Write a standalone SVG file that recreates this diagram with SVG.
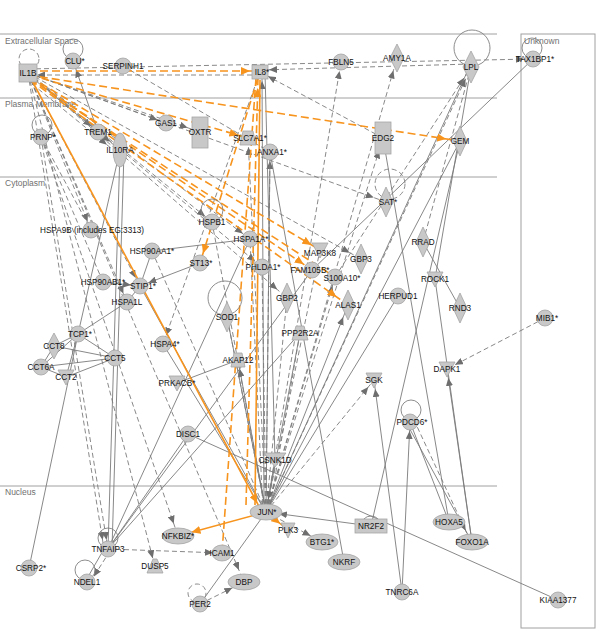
<svg xmlns="http://www.w3.org/2000/svg" width="600" height="640" viewBox="0 0 600 640">
<style>
.n{fill:#c8c8c8;stroke:#a5a5a5;stroke-width:0.8}
.t{font-family:"Liberation Sans",Arial,sans-serif;font-size:8.2px;fill:#111111;text-anchor:middle}
.lay{stroke:#a0a0a0;stroke-width:1;fill:none}
.lt{font-family:"Liberation Sans",Arial,sans-serif;font-size:8.5px;fill:#707070}
.e{fill:none;stroke:#7a7a7a;stroke-width:0.9}
.d{stroke-dasharray:5,3}
.o{fill:none;stroke:#F7941E;stroke-width:1.6}
.od{stroke-dasharray:8,4}
.lp{fill:none;stroke:#808080;stroke-width:0.9}
</style>
<defs>
<marker id="a" markerUnits="userSpaceOnUse" markerWidth="8" markerHeight="7" refX="17" refY="3.5" orient="auto"><path d="M0,0 L8,3.5 L0,7 z" fill="#6e6e6e"/></marker>
<marker id="ab" markerUnits="userSpaceOnUse" markerWidth="8" markerHeight="7" refX="21" refY="3.5" orient="auto"><path d="M0,0 L8,3.5 L0,7 z" fill="#6e6e6e"/></marker>
<marker id="ao" markerUnits="userSpaceOnUse" markerWidth="9" markerHeight="8" refX="19" refY="4" orient="auto"><path d="M0,0 L9,4 L0,8 z" fill="#F7941E"/></marker>
<marker id="aob" markerUnits="userSpaceOnUse" markerWidth="9" markerHeight="8" refX="23" refY="4" orient="auto"><path d="M0,0 L9,4 L0,8 z" fill="#F7941E"/></marker>
</defs>
<rect width="600" height="640" fill="#ffffff"/>
<g id="layers">
<line class="lay" x1="0" y1="34" x2="497" y2="34"/>
<line class="lay" x1="0" y1="98" x2="497" y2="98"/>
<line class="lay" x1="0" y1="177" x2="497" y2="177"/>
<line class="lay" x1="0" y1="486" x2="497" y2="486"/>
<rect class="lay" x="521" y="34" width="74" height="594"/>
<text class="lt" x="5" y="44">Extracellular Space</text>
<text class="lt" x="5" y="107">Plasma Membrane</text>
<text class="lt" x="5" y="186">Cytoplasm</text>
<text class="lt" x="5" y="495">Nucleus</text>
<text class="lt" x="524" y="44">Unknown</text>
</g>
<g id="connectors">
<!-- gray dashed -->
<line class="e d" x1="260" y1="75" x2="28" y2="75" marker-end="url(#a)"/>
<line class="e d" x1="28" y1="69" x2="533" y2="59" marker-end="url(#a)"/>
<line class="e d" x1="471" y1="64" x2="260" y2="70" marker-end="url(#a)"/>
<line class="e d" x1="383" y1="138" x2="260" y2="72" marker-end="url(#a)"/>
<line class="e d" x1="266" y1="512" x2="341" y2="62" marker-end="url(#a)"/>
<line class="e d" x1="266" y1="512" x2="397" y2="58" marker-end="url(#ab)"/>
<line class="e d" x1="266" y1="512" x2="383" y2="138" marker-end="url(#ab)"/>
<line class="e d" x1="266" y1="512" x2="471" y2="67" marker-end="url(#ab)"/>
<line class="e d" x1="335" y1="277" x2="471" y2="67" marker-end="url(#ab)"/>
<line class="e d" x1="28" y1="73" x2="166" y2="123" marker-end="url(#a)"/>
<line class="e d" x1="28" y1="73" x2="200" y2="132" marker-end="url(#ab)"/>
<line class="e d" x1="28" y1="73" x2="98" y2="132" marker-end="url(#a)"/>
<line class="e d" x1="30" y1="76" x2="120" y2="150" marker-end="url(#ab)"/>
<line class="e d" x1="26" y1="79" x2="117" y2="153" marker-end="url(#ab)"/>
<line class="e d" x1="123" y1="66" x2="270" y2="152"/>
<line class="e d" x1="28" y1="73" x2="91" y2="230" marker-end="url(#a)"/>
<line class="e d" x1="28" y1="73" x2="140" y2="286" marker-end="url(#a)"/>
<line class="e d" x1="28" y1="73" x2="127" y2="302" marker-end="url(#a)"/>
<line class="e d" x1="28" y1="73" x2="212" y2="222" marker-end="url(#a)"/>
<line class="e d" x1="28" y1="73" x2="250" y2="239" marker-end="url(#a)"/>
<line class="e d" x1="28" y1="73" x2="262" y2="267" marker-end="url(#a)"/>
<line class="e d" x1="28" y1="73" x2="287" y2="298" marker-end="url(#ab)"/>
<line class="e d" x1="28" y1="73" x2="361" y2="259" marker-end="url(#ab)"/>
<line class="e d" x1="28" y1="73" x2="386" y2="202" marker-end="url(#ab)"/>
<line class="e d" x1="28" y1="73" x2="155" y2="567" marker-end="url(#a)"/>
<line class="e d" x1="41" y1="137" x2="178" y2="536" marker-end="url(#ab)"/>
<line class="e d" x1="41" y1="137" x2="108" y2="549" marker-end="url(#a)"/>
<line class="e d" x1="28" y1="73" x2="244" y2="582" marker-end="url(#ab)"/>
<line class="e d" x1="28" y1="73" x2="104" y2="549" marker-end="url(#a)"/>
<line class="e d" x1="41" y1="137" x2="91" y2="230"/>
<line class="e d" x1="41" y1="137" x2="103" y2="282"/>
<line class="e d" x1="260" y1="72" x2="163" y2="344" marker-end="url(#a)"/>
<line class="e d" x1="266" y1="512" x2="374" y2="380" marker-end="url(#a)"/>
<line class="e d" x1="266" y1="512" x2="322" y2="542" marker-end="url(#ab)"/>
<line class="e d" x1="108" y1="549" x2="222" y2="553" marker-end="url(#a)"/>
<line class="e d" x1="110" y1="551" x2="89" y2="584" marker-end="url(#a)"/>
<line class="e d" x1="200" y1="604" x2="244" y2="582" marker-end="url(#ab)"/>
<line class="e d" x1="545" y1="318" x2="447" y2="369" marker-end="url(#a)"/>
<line class="e d" x1="471" y1="67" x2="423" y2="242"/>
<line class="e d" x1="266" y1="512" x2="270" y2="152" marker-end="url(#a)"/>
<line class="e d" x1="266" y1="512" x2="248" y2="138" marker-end="url(#a)"/>
<line class="e d" x1="266" y1="512" x2="335" y2="277" marker-end="url(#a)"/>
<line class="e d" x1="266" y1="512" x2="262" y2="267"/>
<line class="e d" x1="263" y1="512" x2="250" y2="239"/>
<line class="e d" x1="266" y1="512" x2="287" y2="298"/>
<line class="e d" x1="266" y1="512" x2="227" y2="317"/>
<line class="e d" x1="266" y1="512" x2="320" y2="250"/>
<line class="e d" x1="269" y1="512" x2="300" y2="333"/>
<line class="e d" x1="414" y1="420" x2="470" y2="540" marker-end="url(#ab)"/>
<line class="e d" x1="152" y1="251" x2="266" y2="512"/>
<line class="e d" x1="212" y1="222" x2="266" y2="512"/>
<!-- gray solid -->
<line class="e" x1="98" y1="132" x2="73" y2="61" marker-end="url(#a)"/>
<line class="e" x1="120" y1="150" x2="108" y2="549"/>
<line class="e" x1="124" y1="152" x2="112" y2="549"/>
<line class="e" x1="78" y1="334" x2="29" y2="568"/>
<line class="e" x1="78" y1="334" x2="120" y2="150"/>
<line class="e" x1="78" y1="334" x2="127" y2="302"/>
<line class="e" x1="54" y1="346" x2="78" y2="334"/>
<line class="e" x1="54" y1="346" x2="115" y2="358"/>
<line class="e" x1="41" y1="367" x2="115" y2="358"/>
<line class="e" x1="41" y1="367" x2="78" y2="334"/>
<line class="e" x1="66" y1="377" x2="115" y2="358"/>
<line class="e" x1="66" y1="377" x2="78" y2="334"/>
<line class="e" x1="41" y1="367" x2="54" y2="346"/>
<line class="e" x1="41" y1="367" x2="66" y2="377"/>
<line class="e" x1="78" y1="334" x2="115" y2="358"/>
<line class="e" x1="152" y1="251" x2="140" y2="286"/>
<line class="e" x1="103" y1="282" x2="140" y2="286" marker-end="url(#a)"/>
<line class="e" x1="127" y1="302" x2="140" y2="286"/>
<line class="e" x1="152" y1="251" x2="250" y2="239"/>
<line class="e" x1="200" y1="263" x2="140" y2="286" marker-end="url(#a)"/>
<line class="e" x1="238" y1="360" x2="177" y2="383"/>
<line class="e" x1="266" y1="512" x2="238" y2="360" marker-end="url(#a)"/>
<line class="e" x1="300" y1="333" x2="108" y2="549"/>
<line class="e" x1="300" y1="333" x2="266" y2="512"/>
<line class="e" x1="312" y1="270" x2="108" y2="549"/>
<line class="e" x1="533" y1="59" x2="312" y2="270"/>
<line class="e" x1="398" y1="296" x2="266" y2="512"/>
<line class="e" x1="460" y1="141" x2="371" y2="526"/>
<line class="e" x1="460" y1="141" x2="266" y2="512"/>
<line class="e" x1="471" y1="67" x2="435" y2="279"/>
<line class="e" x1="468" y1="70" x2="266" y2="512"/>
<line class="e" x1="423" y1="242" x2="460" y2="308"/>
<line class="e" x1="383" y1="138" x2="449" y2="522"/>
<line class="e" x1="410" y1="422" x2="449" y2="522"/>
<line class="e" x1="407" y1="424" x2="472" y2="542" marker-end="url(#ab)"/>
<line class="e" x1="435" y1="279" x2="472" y2="542"/>
<line class="e" x1="472" y1="542" x2="447" y2="369" marker-end="url(#a)"/>
<line class="e" x1="402" y1="592" x2="410" y2="422" marker-end="url(#a)"/>
<line class="e" x1="402" y1="592" x2="374" y2="380" marker-end="url(#a)"/>
<line class="e" x1="371" y1="526" x2="266" y2="512" marker-end="url(#ab)"/>
<line class="e" x1="270" y1="152" x2="344" y2="562"/>
<line class="e" x1="188" y1="434" x2="558" y2="600"/>
<line class="e" x1="188" y1="434" x2="108" y2="549"/>
<line class="e" x1="200" y1="604" x2="266" y2="512"/>
<line class="e" x1="104" y1="549" x2="85" y2="582"/>
<line class="e" x1="264" y1="504" x2="262" y2="72" marker-end="url(#a)"/>
<line class="e" x1="270" y1="152" x2="266" y2="512"/>
<line class="e" x1="275" y1="460" x2="266" y2="512" marker-end="url(#ab)"/>
<line class="e" x1="265" y1="72" x2="275" y2="460"/>
<line class="e" x1="266" y1="512" x2="348" y2="305" marker-end="url(#ab)"/>
<line class="e" x1="108" y1="549" x2="250" y2="239"/>
<line class="e" x1="227" y1="317" x2="266" y2="512"/>
<line class="e" x1="163" y1="344" x2="266" y2="512"/>
<line class="e" x1="140" y1="286" x2="266" y2="512"/>
<!-- orange -->
<line class="o od" x1="28" y1="71" x2="260" y2="71" marker-end="url(#ao)"/>
<line class="o od" x1="28" y1="75" x2="460" y2="141" marker-end="url(#aob)"/>
<line class="o od" x1="30" y1="75" x2="248" y2="138" marker-end="url(#ao)"/>
<line class="o od" x1="30" y1="77" x2="320" y2="250" marker-end="url(#ao)"/>
<line class="o od" x1="30" y1="78" x2="312" y2="270" marker-end="url(#ao)"/>
<line class="o od" x1="30" y1="79" x2="335" y2="277"/>
<line class="o od" x1="30" y1="80" x2="348" y2="305" marker-end="url(#aob)"/>
<line class="o od" x1="258" y1="78" x2="200" y2="263" marker-end="url(#ao)"/>
<line class="o od" x1="256" y1="78" x2="222" y2="553"/>
<line class="o od" x1="246" y1="505" x2="258" y2="78" marker-end="url(#ao)"/>
<line class="o" x1="28" y1="73" x2="262" y2="512" marker-end="url(#ao)"/>
<line class="o" x1="260" y1="80" x2="255" y2="505"/>
<line class="o" x1="266" y1="512" x2="178" y2="536" marker-end="url(#aob)"/>
<line class="o" x1="266" y1="512" x2="288" y2="530" marker-end="url(#ao)"/>
<!-- self loops -->
<circle class="lp d" cx="29" cy="59" r="10"/>
<circle class="lp" cx="73" cy="49" r="10"/>
<circle class="lp" cx="42" cy="125" r="10"/>
<circle class="lp" cx="472" cy="48" r="18"/>
<circle class="lp" cx="532" cy="48" r="10"/>
<circle class="lp" cx="212" cy="210" r="11"/>
<circle class="lp" cx="225" cy="298" r="17"/>
<circle class="lp d" cx="390" cy="184" r="15"/>
<circle class="lp" cx="411" cy="410" r="10"/>
<circle class="lp" cx="108" cy="538" r="10"/>
<circle class="lp" cx="85" cy="570" r="10"/>
<circle class="lp d" cx="197" cy="593" r="9"/>
<path class="lp" d="M361,526 A10,10 0 0 1 381,526"/>
</g>
<g id="IL1B"><rect class="n" x="19" y="64" width="18" height="18"/><text class="t" x="28" y="76">IL1B</text></g>
<g id="CLU"><circle class="n" cx="73" cy="61" r="8"/><text class="t" x="75" y="64">CLU*</text></g>
<g id="SERPINH1"><circle class="n" cx="123" cy="66" r="8"/><text class="t" x="123" y="69">SERPINH1</text></g>
<g id="IL8"><rect class="n" x="252" y="65" width="16" height="14"/><text class="t" x="262" y="75">IL8*</text></g>
<g id="FBLN5"><circle class="n" cx="341" cy="62" r="8"/><text class="t" x="341" y="65">FBLN5</text></g>
<g id="AMY1A"><polygon class="n" points="397,44 404,58 397,72 390,58"/><text class="t" x="397" y="61">AMY1A</text></g>
<g id="LPL"><polygon class="n" points="471,51 479,67 471,83 463,67"/><text class="t" x="471" y="70">LPL</text></g>
<g id="TAX1BP1"><circle class="n" cx="533" cy="59" r="8"/><text class="t" x="535" y="62">TAX1BP1*</text></g>
<g id="PRNP"><circle class="n" cx="41" cy="137" r="8"/><text class="t" x="43" y="140">PRNP*</text></g>
<g id="TREM1"><circle class="n" cx="98" cy="132" r="8"/><text class="t" x="98" y="135">TREM1</text></g>
<g id="IL10RA"><ellipse class="n" cx="120" cy="150" rx="7" ry="17"/><text class="t" x="120" y="153">IL10RA</text></g>
<g id="GAS1"><circle class="n" cx="166" cy="123" r="8"/><text class="t" x="166" y="126">GAS1</text></g>
<g id="OXTR"><rect class="n" x="192" y="117" width="16" height="31"/><text class="t" x="200" y="135">OXTR</text></g>
<g id="SLC7A1"><polygon class="n" points="243,131 253,131 256,145 240,145"/><text class="t" x="250" y="141">SLC7A1*</text></g>
<g id="ANXA1"><circle class="n" cx="270" cy="152" r="8"/><text class="t" x="272" y="155">ANXA1*</text></g>
<g id="EDG2"><rect class="n" x="375" y="122" width="16" height="32"/><text class="t" x="383" y="141">EDG2</text></g>
<g id="GEM"><polygon class="n" points="460,126 467,141 460,156 453,141"/><text class="t" x="460" y="144">GEM</text></g>
<g id="SAT"><polygon class="n" points="386,187 393,202 386,217 379,202"/><text class="t" x="388" y="205">SAT*</text></g>
<g id="HSPA9B"><circle class="n" cx="91" cy="230" r="8"/><text class="t" x="92" y="233">HSPA9B (includes EG:3313)</text></g>
<g id="HSPB1"><circle class="n" cx="212" cy="222" r="8"/><text class="t" x="212" y="225">HSPB1</text></g>
<g id="HSPA1A"><circle class="n" cx="250" cy="239" r="8"/><text class="t" x="251" y="242">HSPA1A*</text></g>
<g id="HSP90AA1"><circle class="n" cx="152" cy="251" r="8"/><text class="t" x="152" y="254">HSP90AA1*</text></g>
<g id="ST13"><circle class="n" cx="200" cy="263" r="8"/><text class="t" x="201" y="266">ST13*</text></g>
<g id="MAP3K8"><polygon class="n" points="312,243 328,243 320,258"/><text class="t" x="320" y="256">MAP3K8</text></g>
<g id="GBP3"><polygon class="n" points="361,244 368,259 361,274 354,259"/><text class="t" x="361" y="262">GBP3</text></g>
<g id="FAM105B"><circle class="n" cx="312" cy="270" r="8"/><text class="t" x="310" y="273">FAM105B*</text></g>
<g id="S100A10"><circle class="n" cx="335" cy="277" r="8"/><text class="t" x="342" y="281">S100A10*</text></g>
<g id="PHLDA1"><circle class="n" cx="262" cy="267" r="8"/><text class="t" x="263" y="270">PHLDA1*</text></g>
<g id="STIP1"><circle class="n" cx="140" cy="286" r="8"/><text class="t" x="143" y="289">STIP1*</text></g>
<g id="HSP90AB1"><circle class="n" cx="103" cy="282" r="8"/><text class="t" x="103" y="285">HSP90AB1*</text></g>
<g id="HSPA1L"><circle class="n" cx="127" cy="302" r="8"/><text class="t" x="127" y="305">HSPA1L</text></g>
<g id="GBP2"><polygon class="n" points="287,283 294,298 287,313 280,298"/><text class="t" x="287" y="301">GBP2</text></g>
<g id="ALAS1"><polygon class="n" points="348,290 355,305 348,320 341,305"/><text class="t" x="348" y="308">ALAS1</text></g>
<g id="HERPUD1"><circle class="n" cx="398" cy="296" r="8"/><text class="t" x="398" y="299">HERPUD1</text></g>
<g id="RRAD"><polygon class="n" points="423,227 430,242 423,257 416,242"/><text class="t" x="423" y="245">RRAD</text></g>
<g id="ROCK1"><polygon class="n" points="427,272 443,272 435,287"/><text class="t" x="435" y="282">ROCK1</text></g>
<g id="RND3"><polygon class="n" points="460,293 467,308 460,323 453,308"/><text class="t" x="460" y="311">RND3</text></g>
<g id="MIB1"><circle class="n" cx="545" cy="318" r="8"/><text class="t" x="547" y="321">MIB1*</text></g>
<g id="SOD1"><polygon class="n" points="227,302 234,317 227,332 220,317"/><text class="t" x="227" y="320">SOD1</text></g>
<g id="TCP1"><circle class="n" cx="78" cy="334" r="8"/><text class="t" x="80" y="337">TCP1*</text></g>
<g id="PPP2R2A"><polygon class="n" points="296,326 304,326 308,340 292,340"/><text class="t" x="300" y="336">PPP2R2A</text></g>
<g id="HSPA4"><circle class="n" cx="163" cy="344" r="8"/><text class="t" x="165" y="347">HSPA4*</text></g>
<g id="CCT8"><polygon class="n" points="54,333 61,346 54,359 47,346"/><text class="t" x="54" y="349">CCT8</text></g>
<g id="CCT5"><circle class="n" cx="115" cy="358" r="8"/><text class="t" x="115" y="361">CCT5</text></g>
<g id="CCT6A"><circle class="n" cx="41" cy="367" r="8"/><text class="t" x="41" y="370">CCT6A</text></g>
<g id="CCT2"><polygon class="n" points="58,370 74,370 66,385"/><text class="t" x="66" y="380">CCT2</text></g>
<g id="AKAP12"><polygon class="n" points="234,353 242,353 245,367 231,367"/><text class="t" x="238" y="363">AKAP12</text></g>
<g id="DAPK1"><polygon class="n" points="439,362 455,362 447,377"/><text class="t" x="447" y="372">DAPK1</text></g>
<g id="SGK"><polygon class="n" points="366,373 382,373 374,388"/><text class="t" x="374" y="383">SGK</text></g>
<g id="PRKACB"><polygon class="n" points="169,376 185,376 177,391"/><text class="t" x="177" y="386">PRKACB*</text></g>
<g id="PDCD6"><circle class="n" cx="410" cy="422" r="8"/><text class="t" x="412" y="425">PDCD6*</text></g>
<g id="DISC1"><circle class="n" cx="188" cy="434" r="8"/><text class="t" x="188" y="437">DISC1</text></g>
<g id="CSNK1D"><polygon class="n" points="264,453 286,453 275,467"/><text class="t" x="275" y="463">CSNK1D</text></g>
<g id="JUN"><ellipse class="n" cx="266" cy="512" rx="16" ry="8"/><text class="t" x="267" y="515">JUN*</text></g>
<g id="NFKBIZ"><ellipse class="n" cx="178" cy="536" rx="16" ry="8"/><text class="t" x="178" y="539">NFKBIZ*</text></g>
<g id="PLK3"><polygon class="n" points="281,523 295,523 288,538"/><text class="t" x="288" y="533">PLK3</text></g>
<g id="BTG1"><ellipse class="n" cx="322" cy="542" rx="16" ry="8"/><text class="t" x="322" y="545">BTG1*</text></g>
<g id="NR2F2"><rect class="n" x="355" y="519" width="32" height="14"/><text class="t" x="371" y="529">NR2F2</text></g>
<g id="NKRF"><ellipse class="n" cx="344" cy="562" rx="16" ry="8"/><text class="t" x="344" y="565">NKRF</text></g>
<g id="ICAM1"><ellipse class="n" cx="222" cy="553" rx="10" ry="8"/><text class="t" x="222" y="556">ICAM1</text></g>
<g id="DBP"><ellipse class="n" cx="244" cy="582" rx="16" ry="8"/><text class="t" x="244" y="585">DBP</text></g>
<g id="PER2"><circle class="n" cx="200" cy="604" r="8"/><text class="t" x="200" y="607">PER2</text></g>
<g id="TNFAIP3"><circle class="n" cx="108" cy="549" r="8"/><text class="t" x="108" y="552">TNFAIP3</text></g>
<g id="NDEL1"><circle class="n" cx="87" cy="582" r="8"/><text class="t" x="87" y="585">NDEL1</text></g>
<g id="DUSP5"><polygon class="n" points="153,559 157,559 163,573 147,573"/><text class="t" x="155" y="569">DUSP5</text></g>
<g id="CSRP2"><circle class="n" cx="29" cy="568" r="8"/><text class="t" x="31" y="571">CSRP2*</text></g>
<g id="TNRC6A"><circle class="n" cx="402" cy="592" r="8"/><text class="t" x="402" y="595">TNRC6A</text></g>
<g id="HOXA5"><ellipse class="n" cx="449" cy="522" rx="16" ry="8"/><text class="t" x="449" y="525">HOXA5</text></g>
<g id="FOXO1A"><ellipse class="n" cx="472" cy="542" rx="16" ry="8"/><text class="t" x="472" y="545">FOXO1A</text></g>
<g id="KIAA1377"><circle class="n" cx="558" cy="600" r="8"/><text class="t" x="558" y="603">KIAA1377</text></g>
</svg>
